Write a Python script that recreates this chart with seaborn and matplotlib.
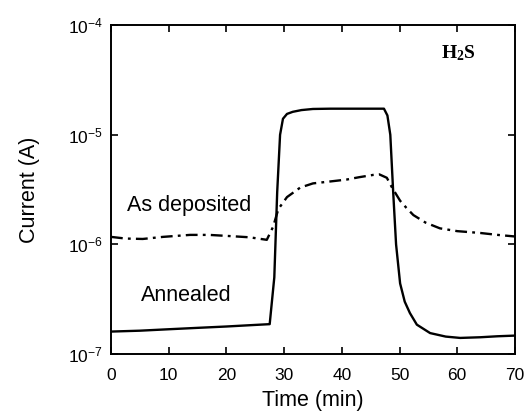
import numpy as np
import pandas as pd
import matplotlib
matplotlib.use("Agg")
import matplotlib.pyplot as plt
import matplotlib.ticker as mticker
import seaborn as sns

# Annealed film (solid line)
annealed_t = [0, 5, 10, 15, 20, 25, 27.5, 28.3, 28.8, 29.3, 29.8, 30.5, 31.5, 33, 35, 38, 41, 44, 47.3,
              47.9, 48.4, 48.9, 49.4, 50.1, 50.9, 51.8, 53, 55.3, 58, 60.5, 64, 67, 70]
annealed_i = [1.6e-7, 1.63e-7, 1.68e-7, 1.73e-7, 1.78e-7, 1.84e-7, 1.87e-7, 5e-7, 3e-6, 1.0e-5, 1.4e-5,
              1.55e-5, 1.62e-5, 1.68e-5, 1.72e-5, 1.73e-5, 1.73e-5, 1.73e-5, 1.73e-5,
              1.5e-5, 1.0e-5, 3.0e-6, 1.0e-6, 4.4e-7, 3.0e-7, 2.36e-7, 1.85e-7, 1.55e-7, 1.44e-7,
              1.4e-7, 1.42e-7, 1.45e-7, 1.47e-7]

# As deposited film (dash-dot line)
deposited_t = [0, 2.5, 5.5, 9, 13.7, 17, 20.6, 24, 27, 28.1, 29, 30.5, 32.8, 35, 38, 40.8, 43,
               45.4, 46.5, 47.8, 48.7, 50.1, 51.2, 52.4, 54.5, 57, 60, 64, 67, 70]
deposited_i = [1.17e-6, 1.13e-6, 1.12e-6, 1.17e-6, 1.22e-6, 1.22e-6, 1.19e-6, 1.16e-6, 1.1e-6, 1.45e-6,
               2.1e-6, 2.7e-6, 3.3e-6, 3.6e-6, 3.75e-6, 3.9e-6, 4.1e-6, 4.3e-6, 4.35e-6, 4.05e-6,
               3.3e-6, 2.5e-6, 2.15e-6, 1.85e-6, 1.58e-6, 1.4e-6, 1.32e-6, 1.27e-6, 1.22e-6, 1.18e-6]

x_ticks = [0, 10, 20, 30, 40, 50, 60, 70]
y_ticks = [1e-7, 1e-6, 1e-5, 1e-4]

sns.set_style("ticks")
plt.rcParams["font.family"] = ["Liberation Sans", "DejaVu Sans"]
plt.rcParams["mathtext.fontset"] = "custom"
plt.rcParams["mathtext.rm"] = "Liberation Sans"
plt.rcParams["mathtext.bf"] = "Liberation Serif:bold"
plt.rcParams["axes.unicode_minus"] = False
plt.rcParams["text.color"] = "black"
plt.rcParams["axes.labelcolor"] = "black"

annealed_df = pd.DataFrame({"t": annealed_t, "i": annealed_i})
deposited_df = pd.DataFrame({"t": deposited_t, "i": deposited_i})

fig = plt.figure(figsize=(5.26, 4.13), dpi=100)
ax = fig.add_axes([0.211, 0.143, 0.768, 0.796])

sns.lineplot(data=annealed_df, x="t", y="i", ax=ax, color="black", linewidth=1.7, sort=False)
sns.lineplot(data=deposited_df, x="t", y="i", ax=ax, color="black", linewidth=1.7, sort=False,
             linestyle=(0, (5, 2.2, 1.2, 2.2)))

ax.set_yscale("log")
ax.set_xlim(0, 70)
ax.set_ylim(1e-7, 1e-4)
ax.set_xticks(x_ticks)
ax.set_yticks(y_ticks)
ax.yaxis.set_minor_locator(mticker.NullLocator())
ax.tick_params(direction="in", length=5, width=1.2, top=True, right=True, labelsize=12.5, colors="black")
ax.tick_params(axis="x", pad=10)
ax.tick_params(axis="y", pad=6)
for s in ax.spines.values():
    s.set_linewidth(1.4)
    s.set_color("black")

ax.set_xlabel("Time (min)", fontsize=15.5, labelpad=5)
ax.set_ylabel("Current (A)", fontsize=15.5, labelpad=20)

ax.text(13.5, 2.28e-6, "As deposited", fontsize=15.5, ha="center", va="center")
ax.text(13.0, 3.45e-7, "Annealed", fontsize=15.5, ha="center", va="center")
ax.text(60.1, 5.55e-5, r"$\mathbf{H_2S}$", fontsize=14, ha="center", va="center")

fig.savefig("out.png", dpi=100)
